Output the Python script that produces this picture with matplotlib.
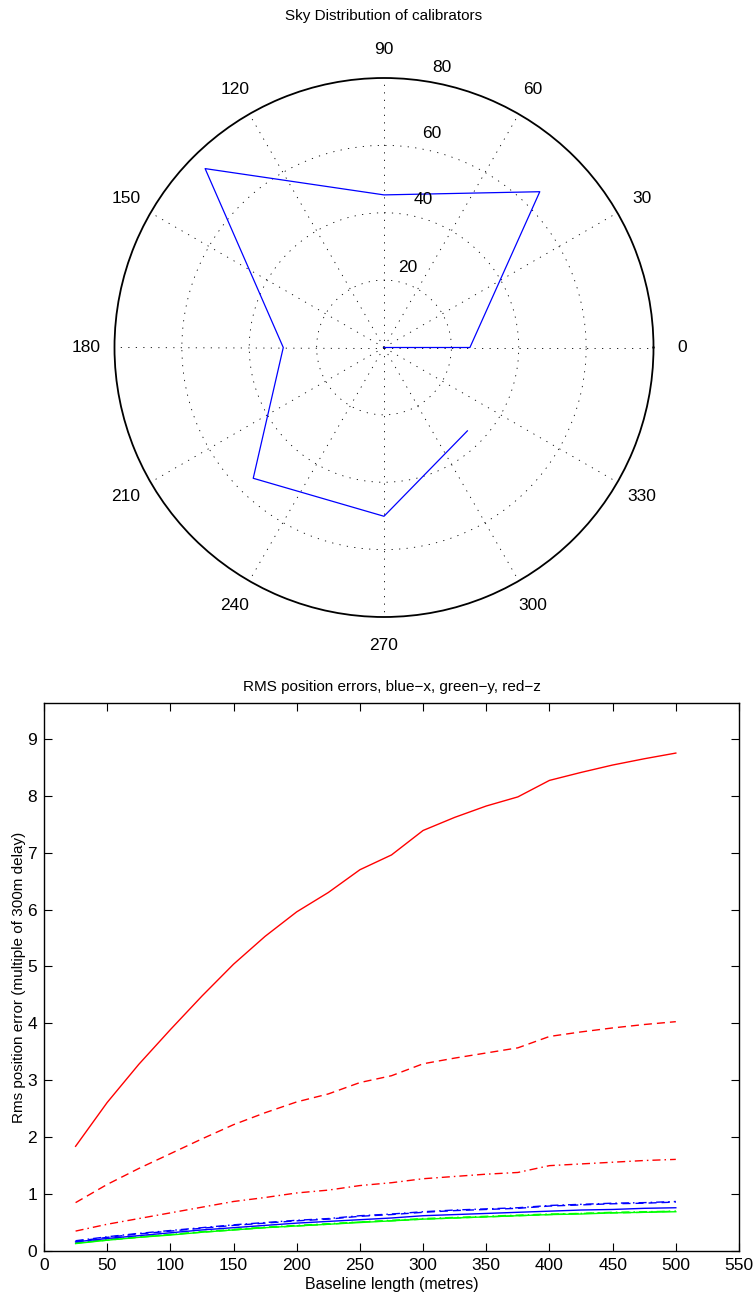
import numpy as np
import matplotlib
matplotlib.use("Agg")
import matplotlib.pyplot as plt

# ---------------- data ----------------
sky_theta_deg = [0, 0, 45, 90, 135, 180, 225, 270, 315]
sky_r = [0, 25.5, 65.4, 45.3, 75.1, 29.9, 54.9, 50.1, 35.0]

baseline = [25, 50, 75, 100, 125, 150, 175, 200, 225, 250,
            275, 300, 325, 350, 375, 400, 425, 450, 475, 500]
red_solid = [1.84, 2.61, 3.28, 3.89, 4.48, 5.04, 5.53, 5.96, 6.30, 6.70,
             6.96, 7.39, 7.62, 7.82, 7.98, 8.27, 8.41, 8.54, 8.65, 8.75]
red_dash = [0.85, 1.17, 1.45, 1.71, 1.97, 2.22, 2.43, 2.62, 2.76, 2.96,
            3.08, 3.29, 3.39, 3.48, 3.57, 3.77, 3.85, 3.92, 3.98, 4.03]
red_dashdot = [0.35, 0.47, 0.57, 0.67, 0.77, 0.87, 0.94, 1.02, 1.07, 1.15,
               1.20, 1.27, 1.31, 1.35, 1.38, 1.50, 1.53, 1.56, 1.59, 1.61]
blue_dashdot = [0.18, 0.25, 0.31, 0.36, 0.41, 0.46, 0.50, 0.54, 0.57, 0.62,
                0.65, 0.69, 0.72, 0.74, 0.76, 0.80, 0.82, 0.84, 0.85, 0.87]
blue_dash = [0.17, 0.24, 0.30, 0.35, 0.40, 0.45, 0.49, 0.53, 0.56, 0.61,
             0.64, 0.68, 0.71, 0.73, 0.75, 0.79, 0.81, 0.83, 0.84, 0.86]
blue_solid = [0.16, 0.22, 0.27, 0.32, 0.37, 0.41, 0.45, 0.49, 0.52, 0.55,
              0.58, 0.62, 0.64, 0.66, 0.68, 0.70, 0.72, 0.73, 0.75, 0.76]
green_solid = [0.13, 0.19, 0.24, 0.28, 0.33, 0.37, 0.41, 0.44, 0.47, 0.50,
               0.53, 0.56, 0.58, 0.60, 0.62, 0.64, 0.65, 0.67, 0.68, 0.69]
green_dash = [0.14, 0.19, 0.24, 0.29, 0.33, 0.37, 0.41, 0.44, 0.47, 0.51,
              0.53, 0.56, 0.58, 0.60, 0.62, 0.64, 0.66, 0.67, 0.68, 0.70]
green_dashdot = [0.14, 0.20, 0.25, 0.29, 0.34, 0.38, 0.42, 0.45, 0.48, 0.51,
                 0.54, 0.57, 0.59, 0.61, 0.63, 0.65, 0.66, 0.68, 0.69, 0.70]

theta_labels = [0, 30, 60, 90, 120, 150, 180, 210, 240, 270, 300, 330]
r_rings = [20, 40, 60, 80]

plt.rcParams['font.family'] = ['Liberation Sans', 'DejaVu Sans']

fig = plt.figure(figsize=(7.53, 12.98), dpi=100)
W, H = 753.0, 1298.0

# ---------------- polar ----------------
cx, cy, R = 384.0, 347.5, 269.5
axp = fig.add_axes([(cx - R) / W, 1 - (cy + R) / H, 2 * R / W, 2 * R / H],
                   projection='polar')
rmax = 80
axp.set_ylim(0, rmax)
dot = (0, (1.5, 7.5))
axp.set_rgrids([20, 40, 60], labels=[])
axp.set_thetagrids(theta_labels, labels=[])
axp.grid(False)
tt = np.linspace(0, 2 * np.pi, 400)
for rr in [20, 40, 60]:
    axp.plot(tt, np.full_like(tt, rr), color='k', lw=0.6, linestyle=dot)
for a in theta_labels:
    axp.plot([np.deg2rad(a), np.deg2rad(a)], [0, rmax], color='k', lw=0.6,
             linestyle=dot)
axp.spines['polar'].set_linewidth(1.3)
axp.spines['polar'].set_color('k')
axp.plot(np.deg2rad(sky_theta_deg), sky_r, color='#0000ff', lw=0.9)
for a in theta_labels:
    axp.text(np.deg2rad(a), 88.5, str(a), ha='center', va='center',
             fontsize=12.5)
label_pos = {20: (73.3, 24.7), 40: (75.2, 45.3), 60: (77.4, 65.2), 80: (78.3, 85.0)}
for rr in r_rings:
    ang, rad = label_pos[rr]
    axp.text(np.deg2rad(ang), rad, str(rr), ha='center', va='center',
             fontsize=12.5)
axp.text(0.5, 1.0 + (cy - R - 16) / (2 * R), 'Sky Distribution of calibrators',
         transform=axp.transAxes, ha='center', va='center', fontsize=11)

# ---------------- line plot ----------------
left, right, bottom, top = 44, 739, 1251, 703
ax = fig.add_axes([left / W, 1 - bottom / H, (right - left) / W, (bottom - top) / H])
dash = (0, (5.8, 3.6))
dashdot = (0, (5.8, 2.9, 1.1, 2.9))
ax.plot(baseline, green_dashdot, color='#00ff00', lw=1.0, linestyle=dashdot)
ax.plot(baseline, green_dash, color='#00ff00', lw=1.0, linestyle=dash)
ax.plot(baseline, green_solid, color='#00ff00', lw=1.0, linestyle='-')
ax.plot(baseline, blue_dash, color='#0000ff', lw=1.0, linestyle=dash)
ax.plot(baseline, blue_dashdot, color='#0000ff', lw=1.0, linestyle=dashdot)
ax.plot(baseline, blue_solid, color='#0000ff', lw=1.0, linestyle='-')
ax.plot(baseline, red_dashdot, color='#ff0000', lw=1.0, linestyle=dashdot)
ax.plot(baseline, red_dash, color='#ff0000', lw=1.0, linestyle=dash)
ax.plot(baseline, red_solid, color='#ff0000', lw=1.0, linestyle='-')
ax.set_xlim(0, 550)
ax.set_ylim(0, 9.63)
ax.set_xticks(range(0, 551, 50))
ax.set_yticks(range(0, 10))
ax.tick_params(direction='in', top=True, right=True, length=6, width=0.8,
               labelsize=12.5, pad=5)
for s in ax.spines.values():
    s.set_linewidth(1.0)
ax.set_xlabel('Baseline length (metres)', fontsize=11.5, labelpad=3)
ax.set_ylabel('Rms position error (multiple of 300m delay)', fontsize=11,
              labelpad=1)
ax.set_title('RMS position errors, blue\u2212x, green\u2212y, red\u2212z',
             fontsize=11, pad=9)

fig.savefig('out.png', dpi=100)
